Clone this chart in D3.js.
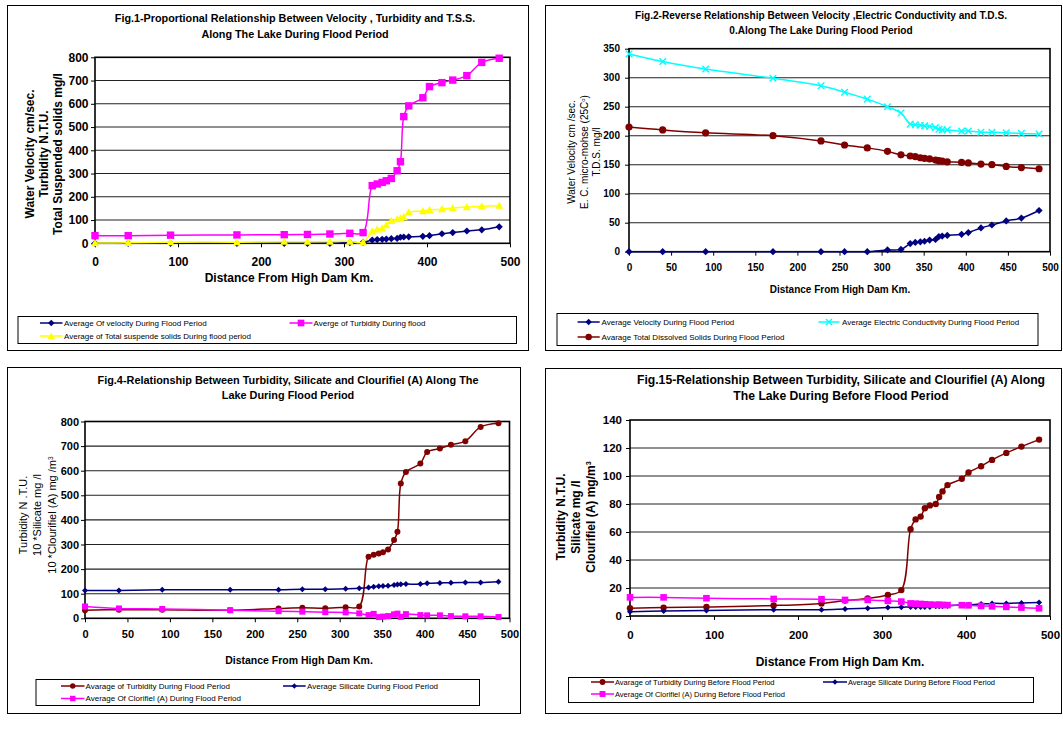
<!DOCTYPE html>
<html>
<head>
<meta charset="utf-8">
<script src="https://cdn.jsdelivr.net/npm/d3@7"></script>
<style>
  body { margin: 0; background: #fff; }
  svg { display: block; }
  text { font-family: "Liberation Sans", Arial, sans-serif; fill: #000; }
</style>
</head>
<body>
<svg id="chart" width="1063" height="731"></svg>
<script>
// Sampling stations, distance from the High Dam (km)
const distanceKm = [0, 40, 91, 171, 228, 256, 283, 307, 323, 334, 340, 346, 351, 357, 364, 368, 372, 378, 395, 403, 418, 431, 448, 466, 487];

// Flood period – velocity, turbidity, suspended solids
const velocityFlood = [0, 0, 0, 0, 0, 0, 0, 3, 4, 14, 16, 17, 18, 20, 21, 26, 27, 28, 30, 33, 41, 46, 53, 58, 71];
const turbidityFlood1 = [33, 33, 35, 36, 37, 38, 40, 43, 46, 248, 255, 262, 269, 279, 312, 351, 545, 591, 626, 674, 691, 702, 721, 778, 796];
const tssFlood = [1, 2, 5, 5, 7, 7, 8, 8, 4, 52, 60, 65, 79, 97, 104, 108, 113, 134, 139, 143, 147, 152, 156, 159, 162];

// Flood period – conductivity and dissolved solids
const ecFlood = [341, 328, 315, 299, 286, 275, 263, 250, 239, 220, 219, 218, 217, 216, 214, 211, 210, 210, 208, 208, 206, 206, 205, 204, 203];
const tdsFlood = [215, 210, 205, 200, 191, 184, 179, 173, 167, 165, 164, 162, 161, 160, 158, 157, 156, 155, 154, 153, 151, 150, 147, 145, 143];

// Flood period – turbidity, silicate (x10), chlorophyll A (x10)
const turbidityFlood4 = [33, 35, 35, 33, 40, 43, 41, 45, 48, 250, 258, 263, 268, 280, 318, 352, 548, 595, 629, 676, 690, 705, 720, 778, 793];
const silicateFlood = [113, 113, 116, 116, 116, 118, 118, 120, 122, 125, 128, 130, 131, 132, 135, 137, 138, 139, 139, 142, 144, 145, 146, 146, 149];
const chlorophyllFlood = [48, 40, 38, 33, 29, 27, 25, 24, 20, 13, 18, 5, 7, 9, 16, 19, 6, 17, 13, 12, 12, 9, 8, 8, 5];

// Before-flood period – turbidity, silicate, chlorophyll A
const turbidityBefore = [5.5, 6, 6.5, 7.5, 9, 11, 12.5, 15, 18.5, 62, 69, 71, 77, 79, 80, 85, 89, 93.5, 98, 102.5, 107, 111.5, 116.5, 121, 126];
const silicateBefore = [3, 3.5, 4, 4.5, 4.5, 5, 5.5, 6, 6.2, 6.5, 6.5, 6.5, 6.5, 6.5, 7, 7, 7, 7.2, 8, 8, 8.5, 9, 9, 9.3, 9.7];
const chlorophyllBefore = [13.3, 13.3, 12.7, 12.2, 12, 11.5, 11.5, 10.8, 10.3, 9, 8.8, 8.6, 8.4, 8.2, 8, 8, 7.9, 7.8, 7.7, 7.6, 7.2, 6.9, 6.5, 6, 5.5];

// Tick values
const xTicks100 = [0, 100, 200, 300, 400, 500];
const xTicks50 = [0, 50, 100, 150, 200, 250, 300, 350, 400, 450, 500];
const yTicks800 = [0, 100, 200, 300, 400, 500, 600, 700, 800];
const yTicks350 = [0, 50, 100, 150, 200, 250, 300, 350];
const yTicks140 = [0, 20, 40, 60, 80, 100, 120, 140];

const NAVY = "#000080", MAGENTA = "#FF00FF", YELLOW = "#FFFF00", CYAN = "#00FFFF", MAROON = "#800000";

const svg = d3.select("#chart");

function drawMarker(sel, type, r, color, cx, cy) {
  if (type === "circle") {
    sel.append("circle").attr("cx", cx).attr("cy", cy).attr("r", r).attr("fill", color);
  } else if (type === "square") {
    sel.append("rect").attr("x", cx - r).attr("y", cy - r).attr("width", 2 * r).attr("height", 2 * r).attr("fill", color);
  } else if (type === "diamond") {
    sel.append("path").attr("d", `M${cx},${cy - r}L${cx + r},${cy}L${cx},${cy + r}L${cx - r},${cy}Z`).attr("fill", color);
  } else if (type === "triangle") {
    sel.append("path").attr("d", `M${cx},${cy - r}L${cx + r},${cy + r * 0.8}L${cx - r},${cy + r * 0.8}Z`).attr("fill", color);
  } else if (type === "x") {
    sel.append("path").attr("d", `M${cx - r},${cy - r}L${cx + r},${cy + r}M${cx - r},${cy + r}L${cx + r},${cy - r}`)
      .attr("stroke", color).attr("stroke-width", 1.4).attr("fill", "none");
  }
}

// Writes a string that may contain ^superscript^ parts
function richText(textSel, str, fs) {
  const parts = str.split("^");
  parts.forEach((part, i) => {
    if (!part) return;
    const t = textSel.append("tspan").text(part);
    if (i % 2 === 1) t.attr("baseline-shift", "super").attr("font-size", fs * 0.6);
  });
}

function drawPanel(p) {
  const g = svg.append("g");
  const [fx, fy, fw, fh] = p.frame;
  g.append("rect").attr("x", fx + 0.5).attr("y", fy + 0.5).attr("width", fw).attr("height", fh)
    .attr("fill", "#fff").attr("stroke", "#000").attr("stroke-width", 1);

  const x = d3.scaleLinear().domain([0, 500]).range([p.plot.left, p.plot.right]);
  const y = d3.scaleLinear().domain([0, p.yMax]).range([p.plot.bottom, p.plot.top]);

  // horizontal gridlines
  g.append("g").selectAll("line").data(p.yTicks.filter(v => v > 0 && v < p.yMax)).join("line")
    .attr("x1", p.plot.left).attr("x2", p.plot.right)
    .attr("y1", d => y(d)).attr("y2", d => y(d))
    .attr("stroke", "#222").attr("stroke-width", 1.1);

  // axes
  const ax = g.append("g").attr("transform", `translate(0,${p.plot.bottom})`)
    .call(d3.axisBottom(x).tickValues(p.xTicks).tickSize(4).tickSizeOuter(0).tickPadding(p.xPad));
  const ay = g.append("g").attr("transform", `translate(${p.plot.left},0)`)
    .call(d3.axisLeft(y).tickValues(p.yTicks).tickSize(4).tickSizeOuter(0).tickPadding(p.yPad));
  [ax, ay].forEach(a => {
    a.select(".domain").remove();
    a.selectAll("line").attr("stroke", "#000");
    a.selectAll("text").attr("font-size", p.tickFont).attr("font-weight", "bold").attr("fill", "#000")
      .attr("font-family", "'Liberation Sans', Arial, sans-serif");
  });

  // plot frame
  g.append("rect").attr("x", p.plot.left).attr("y", p.plot.top)
    .attr("width", p.plot.right - p.plot.left).attr("height", p.plot.bottom - p.plot.top)
    .attr("fill", "none").attr("stroke", "#000").attr("stroke-width", 1.6);

  // series
  const line = d3.line().curve(d3.curveCatmullRom.alpha(0.5));
  p.series.forEach(s => {
    const pts = distanceKm.map((d, i) => [x(d), y(s.values[i])]);
    g.append("path").attr("d", line(pts)).attr("fill", "none")
      .attr("stroke", s.color).attr("stroke-width", 1.5);
    const mg = g.append("g");
    pts.forEach(([cx, cy]) => drawMarker(mg, s.marker, s.r, s.color, cx, cy));
  });

  // title
  p.title.forEach(t => {
    g.append("text").attr("x", p.titleX).attr("y", t.y + p.titleFont * 0.35)
      .attr("text-anchor", "middle").attr("font-size", p.titleFont).attr("font-weight", "bold")
      .text(t.text);
  });

  // x-axis title
  g.append("text").attr("x", p.xTitle.x).attr("y", p.xTitle.y + p.xTitle.fs * 0.35)
    .attr("text-anchor", "middle").attr("font-size", p.xTitle.fs).attr("font-weight", "bold")
    .text(p.xTitle.text);

  // y-axis title lines
  p.yTitle.lines.forEach(l => {
    const t = g.append("text")
      .attr("transform", `translate(${l.x + p.yTitle.fs * 0.35},${p.yTitle.cy}) rotate(-90)`)
      .attr("text-anchor", "middle").attr("font-size", p.yTitle.fs)
      .attr("font-weight", p.yTitle.weight);
    richText(t, l.text, p.yTitle.fs);
  });

  // legend
  const [lx, ly, lw, lh] = p.legend.box;
  g.append("rect").attr("x", lx + 0.5).attr("y", ly + 0.5).attr("width", lw).attr("height", lh)
    .attr("fill", "#fff").attr("stroke", "#000").attr("stroke-width", 1);
  p.legend.entries.forEach((e, i) => {
    const s = p.series[i];
    g.append("line").attr("x1", e.x1).attr("x2", e.x2).attr("y1", e.y).attr("y2", e.y)
      .attr("stroke", s.color).attr("stroke-width", 1.5);
    drawMarker(g, s.marker, s.r * 0.9, s.color, (e.x1 + e.x2) / 2, e.y);
    g.append("text").attr("x", e.tx).attr("y", e.y + p.legend.fs * 0.35)
      .attr("font-size", p.legend.fs).text(s.name);
  });
}

// Fig.1
drawPanel({
  frame: [7, 5, 521, 345],
  plot: { left: 95, right: 510, top: 57.3, bottom: 243.3 },
  yMax: 800, yTicks: yTicks800, xTicks: xTicks100,
  tickFont: 12, xPad: 10.5, yPad: 2.5,
  titleX: 295, titleFont: 10.8,
  title: [
    { y: 18, text: "Fig.1-Proportional Relationship Between Velocity , Turbidity and T.S.S." },
    { y: 34, text: "Along The Lake During Flood Period" }
  ],
  xTitle: { x: 289, y: 278, fs: 12, text: "Distance From High Dam Km." },
  yTitle: { cy: 154, fs: 12, weight: "bold", lines: [
    { x: 30, text: "Water Velocity cm/sec." },
    { x: 44, text: "Turbidity N.T.U." },
    { x: 58, text: "Total Suspended solids mg/l" }
  ] },
  series: [
    { name: "Average Of velocity During Flood Period", values: velocityFlood, color: NAVY, marker: "diamond", r: 3.6 },
    { name: "Averge of Turbidity During flood", values: turbidityFlood1, color: MAGENTA, marker: "square", r: 3.7 },
    { name: "Average of Total suspende solids During flood period", values: tssFlood, color: YELLOW, marker: "triangle", r: 4 }
  ],
  legend: { box: [17.5, 316, 498.5, 27], fs: 8, entries: [
    { x1: 40, x2: 62.5, tx: 64, y: 323 },
    { x1: 289.5, x2: 312.5, tx: 313.5, y: 323 },
    { x1: 40, x2: 62.5, tx: 64, y: 336 }
  ] }
});

// Fig.2
drawPanel({
  frame: [545, 5, 516, 345],
  plot: { left: 629, right: 1050, top: 48.7, bottom: 251.7 },
  yMax: 350, yTicks: yTicks350, xTicks: xTicks50,
  tickFont: 10, xPad: 7.8, yPad: 5,
  titleX: 821, titleFont: 10.1,
  title: [
    { y: 15, text: "Fig.2-Reverse Relationship Between Velocity ,Electric Conductivity and T.D.S." },
    { y: 30, text: "0.Along The Lake During Flood Period" }
  ],
  xTitle: { x: 840, y: 289, fs: 10, text: "Distance From High Dam Km." },
  yTitle: { cy: 152, fs: 10, weight: "normal", lines: [
    { x: 571, text: "Water Velocity cm  /sec." },
    { x: 584.5, text: "E. C. micro-mohse  (25C^o^)" },
    { x: 596.5, text: "T.D.S. mg/l" }
  ] },
  series: [
    { name: "Average Velocity During Flood Period", values: velocityFlood, color: NAVY, marker: "diamond", r: 3.6 },
    { name: "Average Electric Conductivity During Flood Period", values: ecFlood, color: CYAN, marker: "x", r: 3.3 },
    { name: "Avarage Total Dissolved Solids During Flood Period", values: tdsFlood, color: MAROON, marker: "circle", r: 3.6 }
  ],
  legend: { box: [556.5, 313, 481, 32], fs: 8, entries: [
    { x1: 577.6, x2: 599.7, tx: 601.5, y: 322 },
    { x1: 818.4, x2: 839.5, tx: 842, y: 322 },
    { x1: 577.6, x2: 599.7, tx: 601.5, y: 337 }
  ] }
});

// Fig.4
drawPanel({
  frame: [7, 367, 513, 346],
  plot: { left: 85, right: 509.5, top: 421.5, bottom: 618.3 },
  yMax: 800, yTicks: yTicks800, xTicks: xTicks50,
  tickFont: 11, xPad: 7.8, yPad: 2,
  titleX: 288, titleFont: 10.9,
  title: [
    { y: 380, text: "Fig.4-Relationship Between Turbidity, Silicate and Clourifiel (A) Along The" },
    { y: 395, text: "Lake During Flood Period" }
  ],
  xTitle: { x: 299, y: 660, fs: 10.5, text: "Distance From High Dam Km." },
  yTitle: { cy: 515, fs: 11, weight: "normal", lines: [
    { x: 23.6, text: "Turbidity N .T.U." },
    { x: 37, text: "10 *Silicate mg /l" },
    { x: 52, text: "10 *Clourifiel  (A) mg /m^3^" }
  ] },
  series: [
    { name: "Avarage of Turbidity During Flood Period", values: turbidityFlood4, color: MAROON, marker: "circle", r: 3 },
    { name: "Average Silicate During Flood Period", values: silicateFlood, color: NAVY, marker: "diamond", r: 3 },
    { name: "Average Of Clorifiel (A) During Flood Period", values: chlorophyllFlood, color: MAGENTA, marker: "square", r: 3 }
  ],
  legend: { box: [35.5, 679, 443.5, 26], fs: 8, entries: [
    { x1: 61, x2: 84.5, tx: 85.5, y: 686 },
    { x1: 283, x2: 305.7, tx: 307, y: 686 },
    { x1: 61, x2: 84.5, tx: 85.5, y: 698.5 }
  ] }
});

// Fig.15
drawPanel({
  frame: [545, 368, 516, 345],
  plot: { left: 630, right: 1050, top: 420, bottom: 616 },
  yMax: 140, yTicks: yTicks140, xTicks: xTicks100,
  tickFont: 11.5, xPad: 11, yPad: 4,
  titleX: 841, titleFont: 12.2,
  title: [
    { y: 380, text: "Fig.15-Relationship Between Turbidity, Silicate and Clourifiel (A) Along" },
    { y: 396, text: "The Lake During Before Flood Period" }
  ],
  xTitle: { x: 840, y: 662, fs: 12, text: "Distance From High Dam Km." },
  yTitle: { cy: 517, fs: 12, weight: "bold", lines: [
    { x: 560.6, text: "Turbidity N.T.U." },
    { x: 576, text: "Silicate mg /l" },
    { x: 591, text: "Clourifiel  (A) mg/m^3^" }
  ] },
  series: [
    { name: "Avarage of Turbidity During Before Flood Period", values: turbidityBefore, color: MAROON, marker: "circle", r: 3.2 },
    { name: "Average Silicate During Before Flood Period", values: silicateBefore, color: NAVY, marker: "diamond", r: 3 },
    { name: "Average Of Clorifiel (A) During Before Flood Period", values: chlorophyllBefore, color: MAGENTA, marker: "square", r: 3.3 }
  ],
  legend: { box: [568, 677, 465, 25], fs: 7.5, entries: [
    { x1: 591, x2: 614, tx: 615, y: 682 },
    { x1: 823, x2: 847, tx: 848, y: 682 },
    { x1: 591, x2: 614, tx: 615, y: 694 }
  ] }
});
</script>
</body>
</html>
